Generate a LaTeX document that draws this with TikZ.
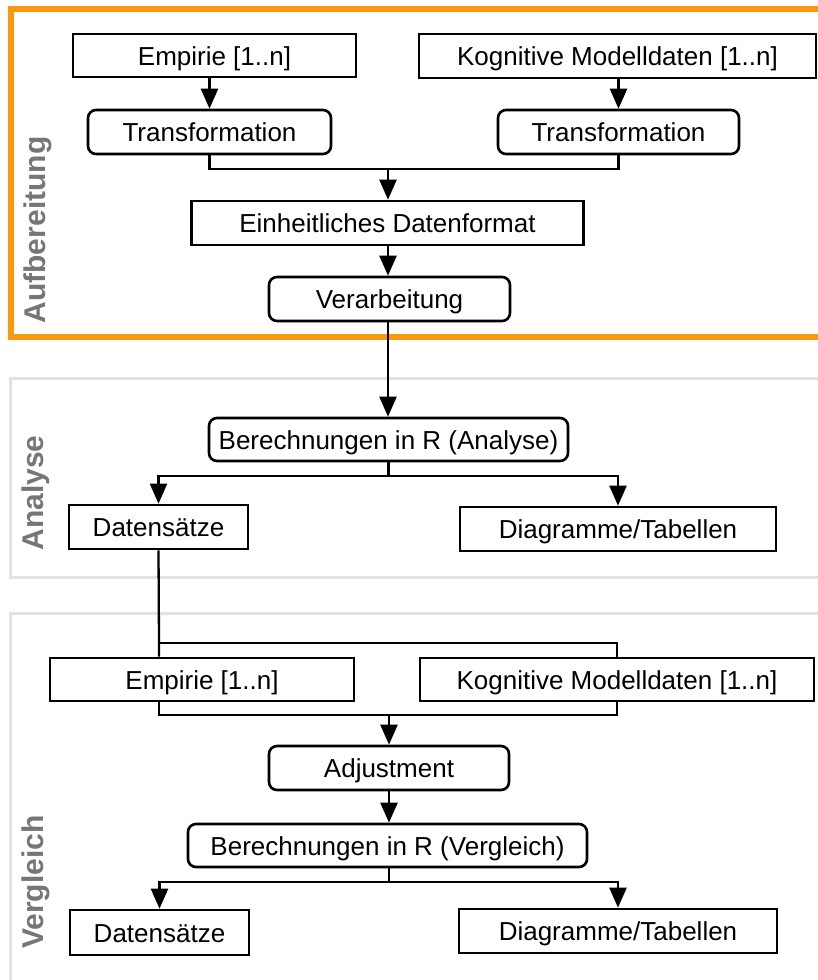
\documentclass[tikz,border=0pt]{standalone}
\usepackage{fontspec}
\setmainfont{Liberation Sans}
\usetikzlibrary{arrows.meta,calc}
\definecolor{orangeframe}{RGB}{252,152,12}
\definecolor{panelgray}{RGB}{226,226,226}
\definecolor{labelgray}{RGB}{118,118,118}
\tikzset{
  box/.style={draw=black, line width=2.6pt, fill=white, inner sep=0pt,
    font=\fontsize{26}{30}\selectfont, text=black, text height=19pt, text depth=0pt},
  sqbox/.style={box},
  rbox/.style={box, rounded corners=8pt},
  conn/.style={draw=black, line width=2.3pt},
  arr/.style={conn, -{Triangle[length=20pt,width=17pt]}},
  phase/.style={rotate=90, font=\fontsize{30}{32}\selectfont\bfseries, text=labelgray, inner sep=0pt},
  panel/.style={draw=panelgray, line width=3pt},
}
\begin{document}
\begin{tikzpicture}[x=1pt,y=-1pt]
\useasboundingbox (0,0) rectangle (818,980);
\clip (0,0) rectangle (818,980);
% frames
\draw[orangeframe, line width=6pt] (10.5,8.5) rectangle (840,336.5);
\draw[panel] (10,378) rectangle (840,577);
\draw[panel] (10,613) rectangle (840,1000);

% labels
\node[phase] (lab1) at (38,230) {Aufbereitung};
\node[phase] (lab2) at (36,493) {Analyse};
\node[phase] (lab3) at (36,882) {Vergleich};

% nodes
\node[sqbox, minimum width=283pt, minimum height=43pt] (emp1) at (214.5,55.5) {Empirie [1..n]};
\node[sqbox, minimum width=397pt, minimum height=44pt] (kog1) at (617.5,56) {Kognitive Modelldaten [1..n]};
\node[rbox, minimum width=243pt, minimum height=44pt] (tr1) at (209.5,132) {Transformation};
\node[rbox, minimum width=241pt, minimum height=44pt] (tr2) at (618.5,132) {Transformation};
\node[sqbox, minimum width=392pt, minimum height=44pt] (ein) at (387.5,223) {Einheitliches Datenformat};
\node[rbox, minimum width=241pt, minimum height=44pt] (ver) at (389.5,299) {Verarbeitung};

\node[rbox, minimum width=359pt, minimum height=43pt] (bera) at (388.5,439.5) {Berechnungen in R (Analyse)};
\node[sqbox, minimum width=179pt, minimum height=44pt] (ds1) at (158.5,527) {Datensätze};
\node[sqbox, minimum width=316pt, minimum height=44pt] (dt1) at (618,529) {Diagramme/Tabellen};

\node[sqbox, minimum width=304pt, minimum height=43pt] (emp2) at (202,679.5) {Empirie [1..n]};
\node[sqbox, minimum width=394pt, minimum height=43pt] (kog2) at (617,679.5) {Kognitive Modelldaten [1..n]};
\node[rbox, minimum width=240pt, minimum height=44pt] (adj) at (389,768) {Adjustment};
\node[rbox, minimum width=399pt, minimum height=43pt] (berv) at (387.5,845.5) {Berechnungen in R (Vergleich)};
\node[sqbox, minimum width=179pt, minimum height=45pt] (ds2) at (159.5,932.5) {Datensätze};
\node[sqbox, minimum width=318pt, minimum height=44pt] (dt2) at (618,931) {Diagramme/Tabellen};

% junction coordinates
\coordinate (j1) at (388,169);
\coordinate (j2) at (388.5,476);
\coordinate (j3) at (159,643);
\coordinate (j4) at (389,715);
\coordinate (j5) at (389,882);

% connectors
\draw[arr] (tr1.north |- emp1.south) -- (tr1.north);
\draw[arr] (tr2.north |- kog1.south) -- (tr2.north);
\draw[conn] (tr1.south) |- (j1) -| (tr2.south);
\draw[arr] (j1) -- (j1 |- ein.north);
\draw[arr] (j1 |- ein.south) -- (j1 |- ver.north);
\draw[arr] (j1 |- ver.south) -- (j1 |- bera.north);
\draw[conn] (bera.south) -- (j2);
\draw[arr] (j2) -| (ds1.north);
\draw[arr] (j2) -| (dt1.north);
\draw[conn] (ds1.south) -- (j3) -- (j3 |- emp2.north);
\draw[conn] (j3) -| (kog2.north);
\draw[conn] (j3 |- emp2.south) |- (j4) -| (kog2.south);
\draw[arr] (j4) -- (j4 |- adj.north);
\draw[arr] (j4 |- adj.south) -- (j4 |- berv.north);
\draw[conn] (j4 |- berv.south) -- (j5);
\draw[arr] (j5) -| (ds2.north);
\draw[arr] (j5) -| (dt2.north);
\end{tikzpicture}
\end{document}
